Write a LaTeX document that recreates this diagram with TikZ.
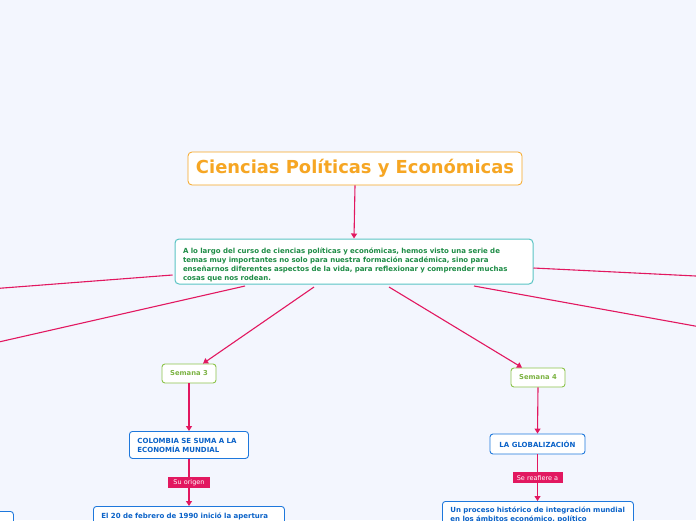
\documentclass[tikz,border=0pt]{standalone}
\usepackage{fontspec}
\setmainfont{DejaVu Sans}
\usetikzlibrary{arrows.meta,calc}
\definecolor{bgc}{RGB}{243,246,254}
\definecolor{mag}{RGB}{226,24,96}
\definecolor{orng}{RGB}{246,166,35}
\definecolor{teal}{RGB}{90,196,196}
\definecolor{dgreen}{RGB}{30,140,70}
\definecolor{lgreen}{RGB}{140,195,74}
\definecolor{lgtext}{RGB}{124,179,66}
\definecolor{blueb}{RGB}{30,120,220}
\definecolor{bluet}{RGB}{10,98,200}
\tikzset{
  conn/.style={draw=mag, line width=1.1pt},
  arr/.style={conn, -{Triangle[length=5pt,width=6pt]}},
  titlebox/.style={draw=orng, fill=white, rounded corners=4pt, line width=0.8pt, text=orng, font=\fontsize{17.9}{19}\selectfont\bfseries, minimum width=334pt, minimum height=33pt, inner sep=0pt},
  mainbox/.style={draw=teal, fill=white, rounded corners=4pt, line width=1pt, text=dgreen, font=\fontsize{7.0}{8.8}\selectfont\bfseries, minimum width=358pt, minimum height=45pt, text width=342pt, align=left, inner sep=0pt},
  weekbox/.style={draw=lgreen, fill=white, rounded corners=3pt, line width=0.9pt, text=lgtext, font=\fontsize{6.8}{8}\selectfont\bfseries, minimum width=54pt, minimum height=19pt, inner sep=0pt},
  bluebox/.style={draw=blueb, fill=white, rounded corners=3pt, line width=0.9pt, text=bluet, font=\fontsize{7}{9}\selectfont\bfseries, align=left, inner sep=0pt, anchor=north west},
  tag/.style={fill=mag, text=white, font=\fontsize{6.5}{7}\selectfont, inner sep=0pt, minimum height=11pt},
}
\begin{document}
\begin{tikzpicture}[x=1pt,y=-1pt]
\useasboundingbox (0,0) rectangle (696,520);
\clip (0,0) rectangle (696,520);
\fill[bgc] (0,0) rectangle (696,520);

% off-canvas ends
\coordinate (offL1) at (-10,289);
\coordinate (offL2) at (-10,344);
\coordinate (offR1) at (706,276.5);
\coordinate (offR2) at (706,328);

% nodes
\node[titlebox] (title) at (355,168.5) {Ciencias Políticas y Económicas};
\node[mainbox] (main) at (354,261.5) {\rule{0pt}{12.5pt}A lo largo del curso de ciencias políticas y económicas, hemos visto una serie de\\temas muy importantes no solo para nuestra formación académica, sino para\\enseñarnos diferentes aspectos de la vida, para reflexionar y comprender muchas\\cosas que nos rodean.};
\node[weekbox] (s3) at (189,373.5) {Semana 3};
\node[weekbox] (s4) at (538,377.5) {Semana 4};
\node[bluebox, minimum width=119pt, minimum height=27pt, text width=103pt] (col) at (129,431) {COLOMBIA SE SUMA A LA\\ECONOMÍA MUNDIAL};
\node[bluebox, minimum width=95pt, minimum height=20pt, anchor=center, align=center] (glob) at (537.5,444) {LA GLOBALIZACIÓN};
\node[bluebox, minimum width=191pt, text width=175pt, inner ysep=6pt] (feb) at (93,506) {El 20 de febrero de 1990 inició la apertura};
\node[bluebox, minimum width=191pt, text width=175pt, inner ysep=5.5pt] (proc) at (442,501) {Un proceso histórico de integración mundial\\en los ámbitos económico, político};
\node[bluebox, minimum width=30pt, minimum height=40pt] (leftb) at (-17,511) {};

% connectors
\draw[arr] (title.south) -- (main.north);
\draw[conn] ($(main.west)+(-2,13.5)$) -- (offL1);
\draw[conn] ($(main.south)+(-109,1.5)$) -- (offL2);
\draw[conn] ($(main.east)+(0,6.5)$) -- (offR1);
\draw[conn] ($(main.south)+(120,1.5)$) -- (offR2);
\draw[arr] ($(main.south)+(-40,2.5)$) -- ($(s3.north)+(14,0)$);
\draw[arr] ($(main.south)+(35,2.5)$) -- ($(s4.north)+(-16,0)$);
\draw[arr] (s3.south) -- (s3.south |- col.north);
\draw[arr] (s4.south) -- (glob.north);
\draw[arr] (col.south -| s3.south) -- node[tag, minimum width=42pt] (t1) {Su origen} (s3.south |- feb.north);
\draw[arr] (glob.south) -- node[tag, minimum width=50pt] (t2) {Se reafiere a} (glob.south |- proc.north);
\end{tikzpicture}
\end{document}
